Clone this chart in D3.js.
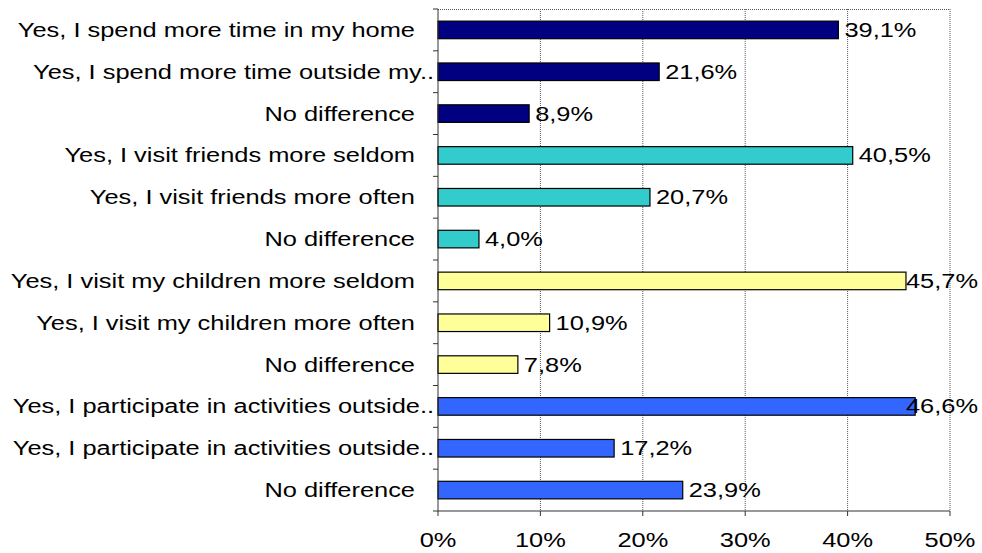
<!DOCTYPE html>
<html><head><meta charset="utf-8">
<script src="https://cdn.jsdelivr.net/npm/d3@7"></script>
<style>
html,body{margin:0;padding:0;background:#fff;}
svg text{font-family:"Liberation Sans",Arial,sans-serif;fill:#000;}
</style></head>
<body>
<svg id="chart" width="982" height="553"></svg>
<script>
const categories = [
  "Yes, I spend more time in my home",
  "Yes, I spend more time outside my..",
  "No difference",
  "Yes, I visit friends more seldom",
  "Yes, I visit friends more often",
  "No difference",
  "Yes, I visit my children more seldom",
  "Yes, I visit my children more often",
  "No difference",
  "Yes, I participate in activities outside..",
  "Yes, I participate in activities outside..",
  "No difference"
];
const values = [39.1, 21.6, 8.9, 40.5, 20.7, 4.0, 45.7, 10.9, 7.8, 46.6, 17.2, 23.9];
const groupIndex = [0,0,0,1,1,1,2,2,2,3,3,3];
const groupColors = ["#000080", "#33CCCC", "#FFFF99", "#3366FF"];
const xTicks = [0, 10, 20, 30, 40, 50];
const xTickLabels = ["0%", "10%", "20%", "30%", "40%", "50%"];

(function () {
const svg = d3.select("#chart");
const pL = 438, pR = 950, pT = 9, pB = 511;
const SX = 1.27, FS = 20;

const x = d3.scaleLinear().domain([0, 50]).range([pL, pR]);
const y = d3.scaleBand().domain(d3.range(categories.length)).range([pT, pB]).paddingInner(0.58).paddingOuter(0.29);

// gridlines (dotted)
svg.append("g").selectAll("line").data(xTicks.slice(1)).join("line")
  .attr("x1", d => x(d)).attr("x2", d => x(d)).attr("y1", pT).attr("y2", pB)
  .attr("stroke", "#555").attr("stroke-width", 1).attr("stroke-dasharray", "1,1");
svg.append("line").attr("x1", pL).attr("x2", pR).attr("y1", pT + 0.5).attr("y2", pT + 0.5)
  .attr("stroke", "#555").attr("stroke-dasharray", "1,1");

// bars
svg.append("g").selectAll("rect").data(values).join("rect")
  .attr("x", x(0)).attr("y", (d, i) => y(i))
  .attr("width", d => x(d) - x(0)).attr("height", y.bandwidth())
  .attr("fill", (d, i) => groupColors[groupIndex[i]])
  .attr("stroke", "#000").attr("stroke-width", 1.2);

// left axis
const stepY = (pB - pT) / categories.length;
svg.append("line").attr("x1", pL).attr("x2", pL).attr("y1", pT).attr("y2", pB)
  .attr("stroke", "#333").attr("stroke-width", 1);
svg.append("g").selectAll("line").data(d3.range(categories.length + 1)).join("line")
  .attr("x1", pL - 5).attr("x2", pL).attr("y1", i => pT + i * stepY).attr("y2", i => pT + i * stepY)
  .attr("stroke", "#333");

// bottom axis
svg.append("line").attr("x1", pL).attr("x2", pR).attr("y1", pB).attr("y2", pB)
  .attr("stroke", "#333");
svg.append("g").selectAll("line").data(xTicks).join("line")
  .attr("x1", d => x(d)).attr("x2", d => x(d)).attr("y1", pB).attr("y2", pB + 5)
  .attr("stroke", "#333");

function stretchedText(g, px, py, txt, anchor) {
  const t = g.append("g").attr("transform", `translate(${px},${py}) scale(${SX},1)`);
  return t.append("text").attr("text-anchor", anchor).attr("font-size", FS).text(txt);
}

// category labels (truncated ones run closer to the axis)
const catG = svg.append("g");
categories.forEach((c, i) => {
  const ex = c.endsWith("..") ? 434 : 415;
  stretchedText(catG, ex, y(i) + y.bandwidth() / 2 + 7, c, "end");
});

// x tick labels
const tickG = svg.append("g");
xTicks.forEach((t, i) => {
  stretchedText(tickG, x(t), 547, xTickLabels[i], "middle");
});

// value labels
const valG = svg.append("g");
values.forEach((v, i) => {
  const lbl = v.toFixed(1).replace(".", ",") + "%";
  const ty = y(i) + y.bandwidth() / 2 + 7;
  const t = stretchedText(valG, 0, ty, lbl, "start");
  const w = t.node().getComputedTextLength() * SX;
  const px = Math.min(x(v) + 6, 978 - w);
  d3.select(t.node().parentNode).attr("transform", `translate(${px},${ty}) scale(${SX},1)`);
});
})();
</script>
</body></html>
